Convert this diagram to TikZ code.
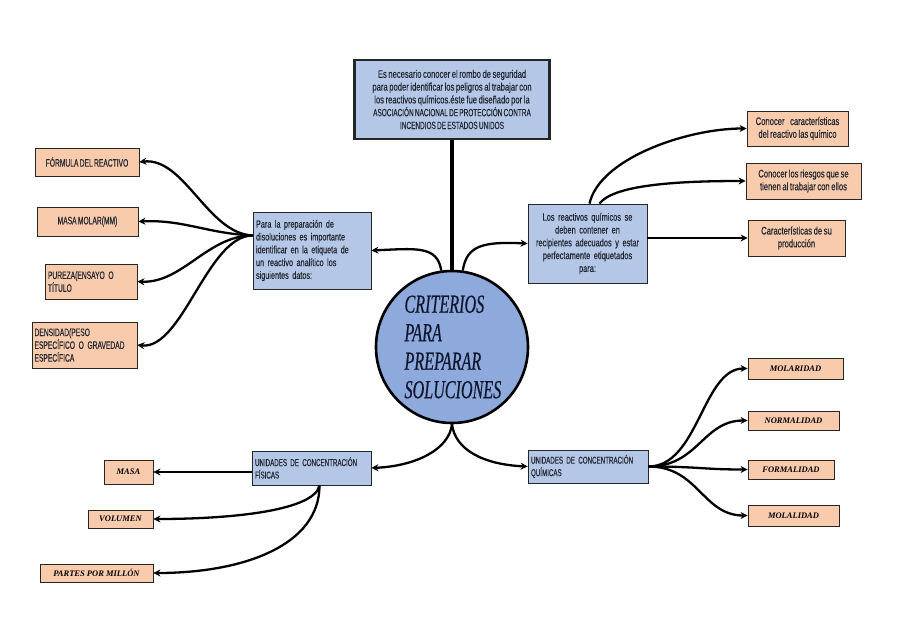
\documentclass[tikz,border=0pt]{standalone}
\usepackage{fontspec}
\setmainfont{Liberation Sans}[FakeStretch=0.7,WordSpace=0.75,FakeBold=0.3]
\newfontfamily\capfont{Liberation Sans}[FakeStretch=0.62,WordSpace=0.7,FakeBold=0.3]
\newfontfamily\scrfont{Liberation Serif}
\newfontfamily\titlefont{Liberation Serif}[FakeStretch=0.62,FakeBold=0.4]
\usetikzlibrary{arrows.meta,calc}
\definecolor{bluebox}{HTML}{B4C7E7}
\definecolor{circfill}{HTML}{8EA9DB}
\definecolor{orangebox}{HTML}{F8CBAD}
\definecolor{txt}{HTML}{22262F}
\definecolor{navy}{HTML}{10162E}
\newcommand{\capsz}{\capfont\fontsize{10.4}{12.8}\selectfont}
\tikzset{
  bbox/.style={draw=black!85, line width=0.8pt, fill=bluebox, text=txt, inner sep=2pt,
    font=\fontsize{10.9}{12.8}\selectfont},
  obox/.style={draw=black!85, line width=0.8pt, fill=orangebox, text=txt, inner sep=2pt,
    font=\fontsize{10.9}{12.8}\selectfont},
  ocap/.style={draw=black!85, line width=0.8pt, fill=orangebox, text=txt, inner sep=2pt,
    font=\capfont\fontsize{10.8}{12.8}\selectfont},
  sbox/.style={draw=black!85, line width=0.8pt, fill=orangebox, text=black, inner sep=1pt,
    font=\scrfont\bfseries\itshape\fontsize{8.5}{9}\selectfont},
  conn/.style={line width=2.3pt, draw=black, -{Stealth[length=7pt,width=7pt]}},
}
\begin{document}
\begin{tikzpicture}[x=1pt,y=-1pt]
\useasboundingbox (0,0) rectangle (905,640);
% central circle
\node[circle, draw=black, line width=2.6pt, fill=circfill, minimum size=152pt] (circ) at (452,347) {};
\node[text=navy, align=left, anchor=west, font=\titlefont\itshape\fontsize{26}{28.5}\selectfont] (ctext) at (401,347) {CRITERIOS\\PARA\\PREPARAR\\SOLUCIONES};
% top box
\node[bbox, line width=2.6pt, minimum width=195pt, minimum height=79pt, align=center] (top) at (452,99.5)
 {Es necesario conocer el rombo de seguridad\\para poder identificar los peligros al trabajar con\\los reactivos químicos.éste fue diseñado por la\\{\capsz ASOCIACIÓN NACIONAL DE PROTECCIÓN CONTRA}\\{\capsz INCENDIOS DE ESTADOS UNIDOS}};
% left box
\node[bbox, font=\fontsize{10.4}{12.8}\selectfont, minimum width=118pt, minimum height=77pt, align=left, text width=112pt] (lb) at (312,250.5)
 {Para la preparación de\\disoluciones es importante\\identificar en la etiqueta de\\un reactivo analítico los\\siguientes datos:};
% right box
\node[bbox, font=\fontsize{10.6}{12.8}\selectfont, minimum width=119pt, minimum height=79pt, align=center, text width=115pt] (rb) at (587.5,243.5)
 {Los reactivos químicos se\\deben contener en\\recipientes adecuados y estar\\perfectamente etiquetados\\para:};
% bottom boxes
\node[bbox, font=\capfont\fontsize{10}{12.5}\selectfont, minimum width=119pt, minimum height=34pt, align=left, text width=113pt] (bl) at (311.5,468)
 {UNIDADES DE CONCENTRACIÓN\\FÍSICAS};
\node[bbox, font=\capfont\fontsize{10}{12.5}\selectfont, minimum width=120pt, minimum height=33pt, align=left, text width=114pt] (br) at (588,466.5)
 {UNIDADES DE CONCENTRACIÓN\\QUÍMICAS};
% left orange boxes
\node[ocap, minimum width=104pt, minimum height=28pt, align=center] (f1) at (87,162) {FÓRMULA DEL REACTIVO};
\node[ocap, minimum width=101pt, minimum height=29pt, align=center] (f2) at (87.5,221.5) {MASA MOLAR(MM)};
\node[ocap, minimum width=92pt, minimum height=35pt, align=left, text width=86pt] (f3) at (91,281.5) {PUREZA(ENSAYO O\\TÍTULO};
\node[ocap, minimum width=105pt, minimum height=46pt, align=left, text width=100pt] (f4) at (84.5,345) {DENSIDAD(PESO\\ESPECÍFICO O GRAVEDAD\\ESPECÍFICA};
% right orange boxes
\node[obox, minimum width=101pt, minimum height=35pt, align=center] (r1) at (797.5,128.5) {Conocer\hspace{4pt} características\\del reactivo las químico};
\node[obox, minimum width=115pt, minimum height=36pt, align=center] (r2) at (803.5,181) {Conocer los riesgos que se\\tienen al trabajar con ellos};
\node[obox, minimum width=97pt, minimum height=36pt, align=center] (r3) at (796.5,238) {Características de su\\producción};
% chemical units
\node[sbox, minimum width=95pt, minimum height=21pt] (q1) at (795.5,368.5) {MOLARIDAD};
\node[sbox, minimum width=91pt, minimum height=19pt] (q2) at (793.5,420.5) {NORMALIDAD};
\node[sbox, minimum width=86pt, minimum height=19pt] (q3) at (791,469.5) {FORMALIDAD};
\node[sbox, minimum width=91pt, minimum height=21pt] (q4) at (793.5,515.5) {MOLALIDAD};
% physical units
\node[sbox, minimum width=49pt, minimum height=24pt] (p1) at (128.5,472) {MASA};
\node[sbox, minimum width=65pt, minimum height=18pt] (p2) at (120.5,519) {VOLUMEN};
\node[sbox, minimum width=113pt, minimum height=18pt] (p3) at (96.5,573) {PARTES POR MILLÓN};
% connectors
\draw[line width=3.4pt] (top.south) -- (circ.north);
\draw[conn] (circ.98) .. controls +(-4,-25) and +(45,-2) .. (lb.east);
\draw[conn] (circ.82) .. controls +(4,-25) and +(-45,-2) .. (rb.west);
\draw[conn] (circ.270) .. controls +(-3,25) and +(45,-2) .. (bl.east);
\draw[conn] (circ.270) .. controls +(3,25) and +(-45,-2) .. (br.west);
% left fan
\coordinate (lf) at ($(lb.west)+(0,-15)$);
\draw[conn] (lf) .. controls +(-45,-2) and +(45,-5) .. (f1.east);
\draw[conn] (lf) .. controls +(-45,-2) and +(45,-2) .. (f2.east);
\draw[conn] (lf) .. controls +(-45,0) and +(45,2) .. (f3.east);
\draw[conn] (lf) .. controls +(-45,0) and +(45,5) .. (f4.east);
% right fan
\coordinate (rf1) at ($(rb.north)+(2,0)$);
\coordinate (rf2) at ($(rb.north)+(12,0)$);
\draw[conn] (rf1) .. controls +(10,-45) and +(-60,0) .. (r1.west);
\draw[conn] (rf2) .. controls +(15,-20) and +(-60,0) .. (r2.west);
\draw[conn] (rb.east|-r3.west) -- (r3.west);
% physical fan
\coordinate (bf) at ($(bl.south)+(8,0)$);
\draw[conn] (bl.west|-p1.east) -- (p1.east);
\draw[conn] (bf) .. controls +(-5,25) and +(80,0) .. (p2.east);
\draw[conn] (bf) .. controls +(0,60) and +(90,0) .. (p3.east);
% chemical fan
\draw[conn] (br.east) .. controls +(50,0) and +(-45,0) .. (q1.west);
\draw[conn] (br.east) .. controls +(50,0) and +(-45,0) .. (q2.west);
\draw[conn] (br.east) .. controls +(50,0) and +(-45,0) .. (q3.west);
\draw[conn] (br.east) .. controls +(50,0) and +(-45,0) .. (q4.west);
\end{tikzpicture}
\end{document}
